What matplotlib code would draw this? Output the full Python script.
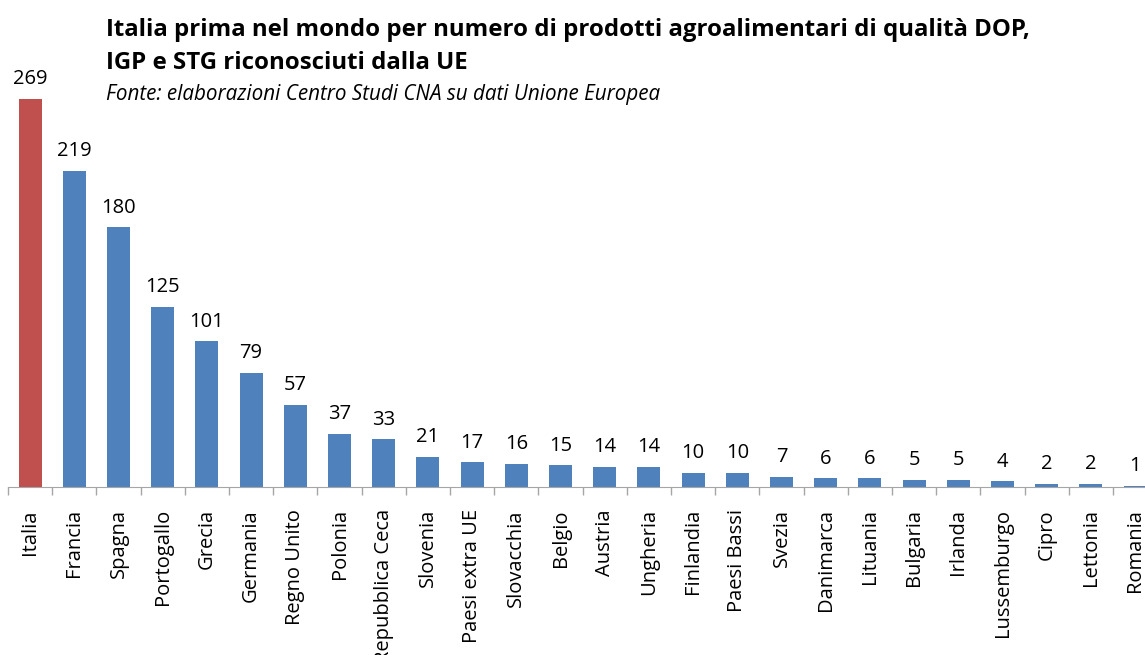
import numpy as np
from matplotlib import pyplot as plt

paesi = ["Italia", "Francia", "Spagna", "Portogallo", "Grecia", "Germania",
         "Regno Unito", "Polonia", "Repubblica Ceca", "Slovenia", "Paesi extra UE",
         "Slovacchia", "Belgio", "Austria", "Ungheria", "Finlandia", "Paesi Bassi",
         "Svezia", "Danimarca", "Lituania", "Bulgaria", "Irlanda", "Lussemburgo",
         "Cipro", "Lettonia", "Romania"]
prodotti = [269, 219, 180, 125, 101, 79, 57, 37, 33, 21, 17, 16, 15, 14, 14,
            10, 10, 7, 6, 6, 5, 5, 4, 2, 2, 1]

titolo = ("Italia prima nel mondo per numero di prodotti agroalimentari di qualità DOP,\n"
          "IGP e STG riconosciuti dalla UE")
fonte = "Fonte: elaborazioni Centro Studi CNA su dati Unione Europea"


def main():
	plt.rcParams['font.family'] = ['Open Sans', 'DejaVu Sans']

	fig = plt.figure(figsize=(11.45, 6.55), dpi=100)
	W, H = 1145.0, 655.0
	# l'asse continua oltre il bordo destro, come nell'originale ritagliato
	passo = 44.2
	x0 = 8.0
	base = 487.0
	scala = 388.0 / 269
	ymax = 300
	ax = fig.add_axes([x0 / W, (H - base) / H, passo * len(paesi) / W, ymax * scala / H])

	x = np.arange(len(paesi))
	colori = ["#C0504D"] + ["#4F81BD"] * (len(paesi) - 1)
	barre = ax.bar(x, prodotti, width=0.52, color=colori)

	for b, v in zip(barre, prodotti):
		ax.annotate(str(v), (b.get_x() + b.get_width() / 2, v), xytext=(0, 7),
		            textcoords="offset points", ha="center", va="bottom", fontsize=14.5)

	ax.set_xlim(-0.5, len(paesi) - 0.5)
	ax.set_ylim(0, ymax)
	ax.set_xticks(x)
	ax.set_xticklabels(paesi, rotation=90, fontsize=14.5)
	ax.tick_params(axis="x", which="major", length=0, pad=16)
	ax.set_xticks(np.arange(-0.5, len(paesi), 1.0), minor=True)
	ax.tick_params(axis="x", which="minor", length=6, color="#A6A6A6", width=1)
	ax.set_yticks([])
	for s in ["top", "right", "left"]:
		ax.spines[s].set_visible(False)
	ax.spines["bottom"].set_color("#A6A6A6")

	fig.text(106 / W, 1 - 18 / H, titolo, fontsize=17.3, fontweight="bold", va="top",
	         linespacing=1.5)
	fig.text(106 / W, 1 - 84 / H, fonte, fontsize=14.9, style="italic", va="top")

	plt.savefig("out.png", dpi=100)


if __name__ == '__main__':
	main()
